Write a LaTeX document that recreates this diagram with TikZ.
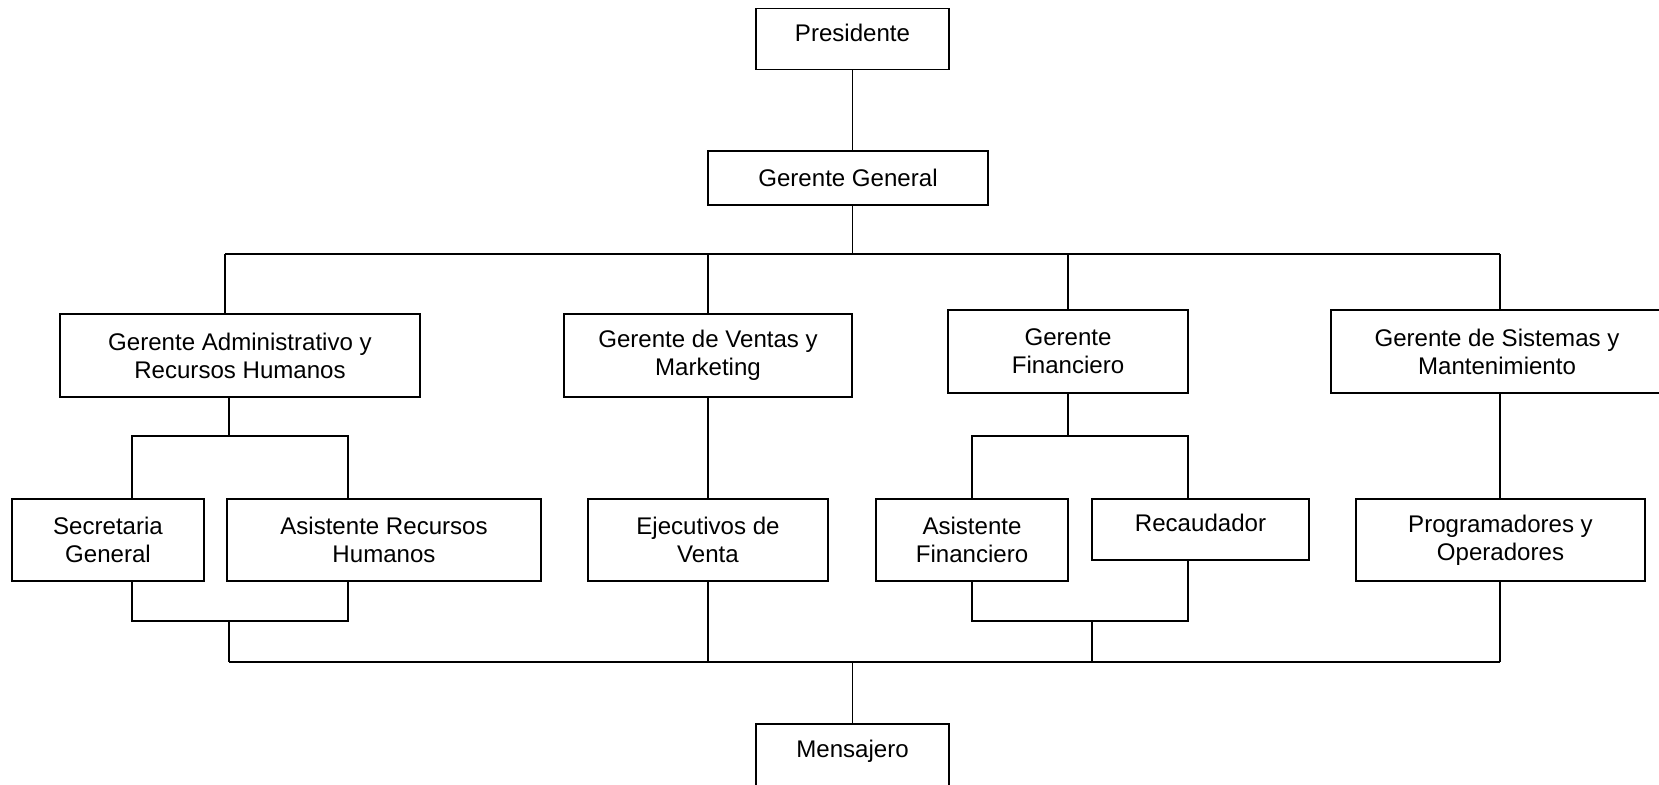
\documentclass[tikz,border=0pt]{standalone}
\usepackage{fontspec}
\setmainfont{Liberation Sans}

\begin{document}
\begin{tikzpicture}[x=0.02cm,y=-0.02cm]
  \tikzset{
    unit/.style={draw, line width=0.8pt, align=center, inner sep=0pt,
      font=\fontsize{13.7}{16}\selectfont},
    lift/.style={text depth=#1},
    link/.style={line width=0.8pt}
  }
  \useasboundingbox (0,0) rectangle (1659,784);
  % units
  \node[unit, lift=7.2pt, minimum width=3.86cm, minimum height=1.22cm] (pres) at (852.5,39) {Presidente};
  \node[unit, minimum width=5.6cm, minimum height=1.08cm] (gg) at (848,178) {Gerente General};
  \node[unit, minimum width=7.2cm, minimum height=1.66cm] (ga) at (240,355.5) {Gerente Administrativo y\\Recursos Humanos};
  \node[unit, minimum width=5.76cm, minimum height=1.66cm] (gv) at (708,355.5) {Gerente de Ventas y\\Marketing};
  \node[unit, minimum width=4.8cm, minimum height=1.66cm] (gf) at (1068,351.5) {Gerente\\Financiero};
  \node[unit, minimum width=6.64cm, minimum height=1.66cm] (gs) at (1497,351.5) {Gerente de Sistemas y\\Mantenimiento};
  \node[unit, minimum width=3.84cm, minimum height=1.64cm] (sec) at (108,540) {Secretaria\\General};
  \node[unit, minimum width=6.28cm, minimum height=1.64cm] (arh) at (384,540) {Asistente Recursos\\Humanos};
  \node[unit, minimum width=4.8cm, minimum height=1.64cm] (ejv) at (708,540) {Ejecutivos de\\Venta};
  \node[unit, minimum width=3.84cm, minimum height=1.64cm] (afi) at (972,540) {Asistente\\Financiero};
  \node[unit, lift=7.2pt, minimum width=4.34cm, minimum height=1.22cm] (rec) at (1200.5,529.5) {Recaudador};
  \node[unit, minimum width=5.78cm, minimum height=1.64cm] (prog) at (1500.5,540) {Programadores y\\Operadores};
  \node[unit, lift=17.2pt, minimum width=3.86cm, minimum height=1.6cm] (mens) at (852.5,764) {Mensajero};

  % bus points
  \coordinate (busw) at (225,254);
  \coordinate (buse) at (1500,254);
  \coordinate (gafork) at (229,436);
  \coordinate (secup) at (132,436);
  \coordinate (arhup) at (348,436);
  \coordinate (secdn) at (132,621);
  \coordinate (arhdn) at (348,621);
  \coordinate (gajoin) at (229,621);
  \coordinate (afiup) at (972,436);
  \coordinate (recup) at (1188,436);
  \coordinate (afidn) at (972,621);
  \coordinate (recdn) at (1188,621);
  \coordinate (gfjoin) at (1092,621);
  \coordinate (botw) at (229,662);
  \coordinate (bote) at (1500,662);

  % links
  \draw[link] (pres.south) -- (pres.south |- gg.north);
  \draw[link] (gg.south -| pres.south) -- (pres.south |- busw);
  \draw[link] (busw) -- (buse);
  \draw[link] (busw) -- (busw |- ga.north);
  \draw[link] (gv.north |- busw) -- (gv.north);
  \draw[link] (gf.north |- busw) -- (gf.north);
  \draw[link] (buse) -- (buse |- gs.north);
  \draw[link] (gafork |- ga.south) -- (gafork);
  \draw[link] (secup |- sec.north) -- (secup) -- (arhup) -- (arhup |- arh.north);
  \draw[link] (secdn |- sec.south) -- (secdn) -- (arhdn) -- (arhdn |- arh.south);
  \draw[link] (gajoin) -- (botw);
  \draw[link] (gv.south) -- (ejv.north);
  \draw[link] (ejv.south) -- (ejv.south |- botw);
  \draw[link] (gf.south) -- (gf.south |- afiup);
  \draw[link] (afi.north) -- (afiup) -- (recup) -- (recup |- rec.north);
  \draw[link] (afi.south) -- (afidn) -- (recdn) -- (recdn |- rec.south);
  \draw[link] (gfjoin) -- (gfjoin |- botw);
  \draw[link] (gs.south -| buse) -- (prog.north -| buse);
  \draw[link] (prog.south -| buse) -- (bote);
  \draw[link] (botw) -- (bote);
  \draw[link] (mens.north) -- (mens.north |- botw);
\end{tikzpicture}
\end{document}
